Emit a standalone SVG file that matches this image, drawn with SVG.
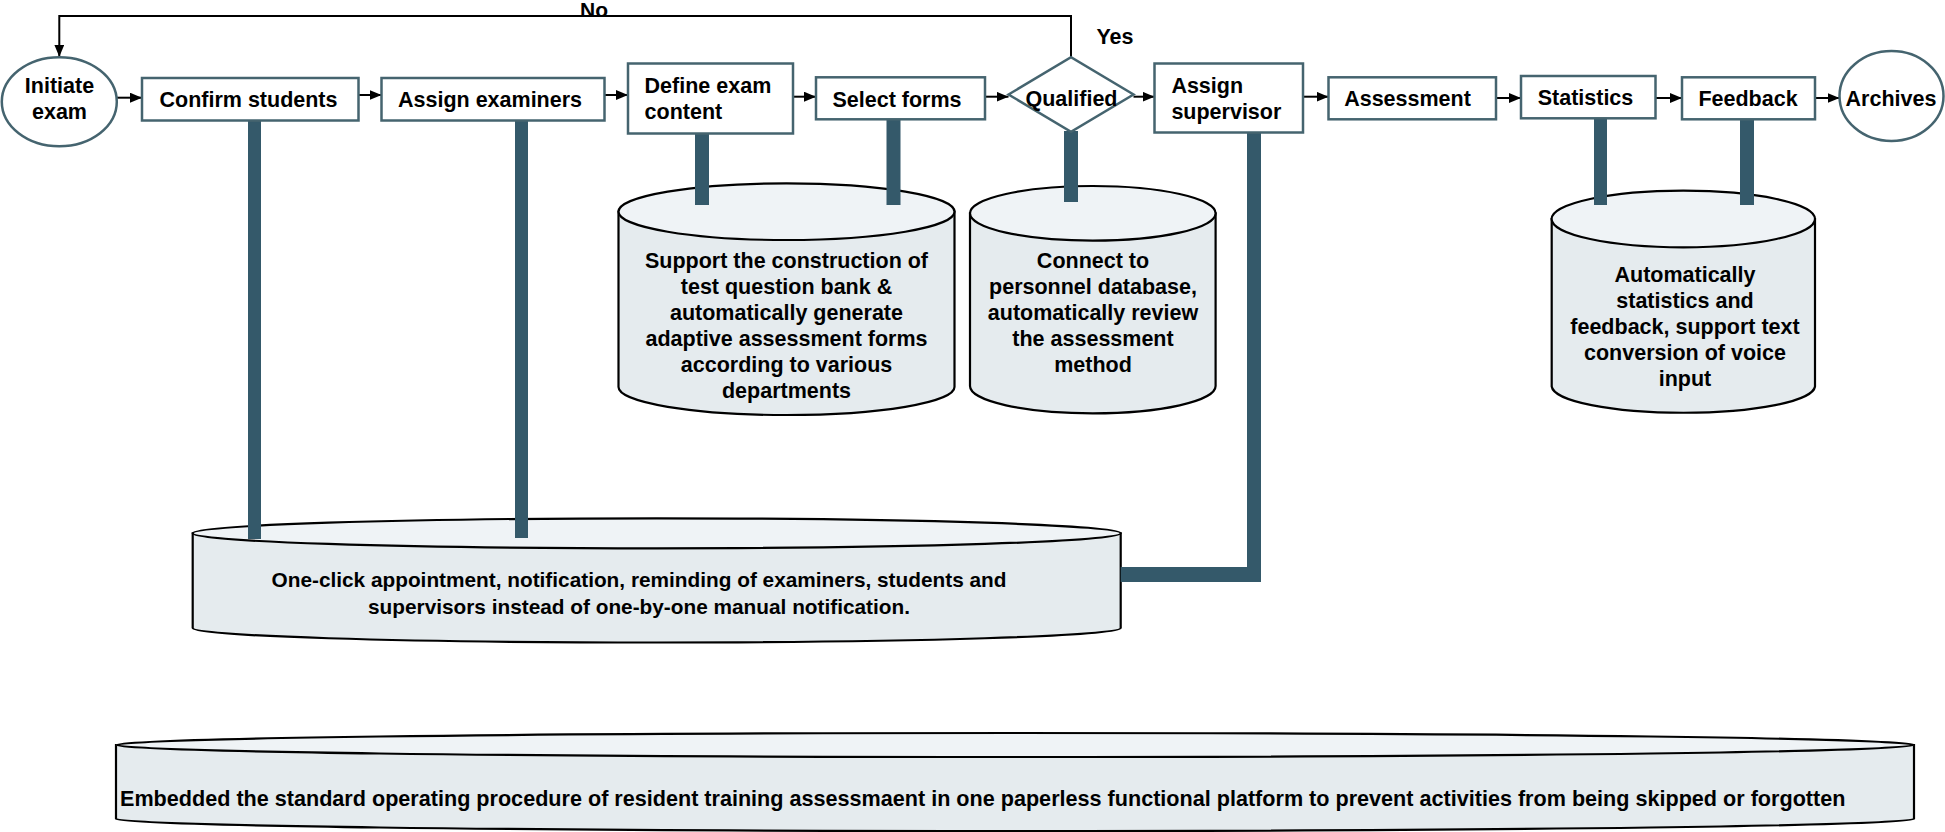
<svg xmlns="http://www.w3.org/2000/svg" width="1945" height="832" viewBox="0 0 1945 832">
<style>
  .box { fill: #ffffff; stroke: #45646f; stroke-width: 2.5; }
  .body { fill: #e5ebee; stroke: #000000; stroke-width: 2.2; }
  .top { fill: #eff3f6; stroke: #000000; stroke-width: 2.2; }
  .bar { fill: #34596a; }
  .flow { fill: none; stroke: #000000; stroke-width: 2; marker-end: url(#ah); }
  text { font-family: "Liberation Sans", Arial, Helvetica, sans-serif; font-weight: bold; font-size: 21.5px; fill: #000000; }
  .c { text-anchor: middle; }
  .s { font-size: 20.8px; }
</style>
<defs>
  <marker id="ah" markerUnits="userSpaceOnUse" markerWidth="12" markerHeight="10" refX="12" refY="5" orient="auto">
    <path d="M0,0 L12,5 L0,10 Z" fill="#000000"/>
  </marker>
</defs>
<rect width="1945" height="832" fill="#ffffff"/>

<!-- cylinders (data stores) -->
<g id="db-questionbank">
  <path class="body" d="M618.5,211.7 V387 A168,28 0 0 0 954.5,387 V211.7 Z"/>
  <ellipse class="top" cx="786.5" cy="211.7" rx="168" ry="28.3"/>
  <text class="c" x="786.5" y="268">Support the construction of<tspan x="786.5" dy="26">test question bank &amp;</tspan><tspan x="786.5" dy="26">automatically generate</tspan><tspan x="786.5" dy="26.3">adaptive assessment forms</tspan><tspan x="786.5" dy="26">according to various</tspan><tspan x="786.5" dy="26">departments</tspan></text>
</g>
<g id="db-personnel">
  <path class="body" d="M970,213.3 V386 A122.8,27.3 0 0 0 1215.6,386 V213.3 Z"/>
  <ellipse class="top" cx="1092.8" cy="213.3" rx="122.8" ry="27.3"/>
  <text class="c" x="1093" y="268">Connect to<tspan x="1093" dy="26">personnel database,</tspan><tspan x="1093" dy="26">automatically review</tspan><tspan x="1093" dy="26">the assessment</tspan><tspan x="1093" dy="26">method</tspan></text>
</g>
<g id="db-statistics">
  <path class="body" d="M1551.7,219 V386.5 A131.7,27 0 0 0 1815,386.5 V219 Z"/>
  <ellipse class="top" cx="1683.3" cy="219" rx="131.7" ry="28.3"/>
  <text class="c" x="1685" y="282">Automatically<tspan x="1685" dy="26">statistics and</tspan><tspan x="1685" dy="26">feedback, support text</tspan><tspan x="1685" dy="26">conversion of voice</tspan><tspan x="1685" dy="26">input</tspan></text>
</g>
<g id="db-notification">
  <path class="body" d="M192.7,533.3 V628 A464,14.5 0 0 0 1120.7,628 V533.3 Z"/>
  <ellipse class="top" cx="656.7" cy="533.3" rx="464" ry="15"/>
  <text class="c s" x="639" y="587">One-click appointment, notification, reminding of examiners, students and<tspan x="639" dy="27">supervisors instead of one-by-one manual notification.</tspan></text>
</g>
<g id="db-platform">
  <path class="body" d="M116,745 V819 A899,12 0 0 0 1914,819 V745 Z"/>
  <ellipse class="top" cx="1015" cy="745" rx="899" ry="12"/>
  <text x="120" y="806" style="font-size:21.6px">Embedded  the standard operating procedure of resident training assessmaent in one paperless functional platform to prevent activities from being skipped or forgotten</text>
</g>

<!-- connectors -->
<g id="connectors">
  <path class="flow" d="M117,97.7 H142"/>
  <path class="flow" d="M358.5,95 H381.5"/>
  <path class="flow" d="M604.5,95 H628"/>
  <path class="flow" d="M793,96.7 H816"/>
  <path class="flow" d="M985,96.7 H1008.5"/>
  <path class="flow" d="M1133.5,96.7 H1154.5"/>
  <path class="flow" d="M1303,96.7 H1328.5"/>
  <path class="flow" d="M1496,98 H1521"/>
  <path class="flow" d="M1655.5,98 H1682"/>
  <path class="flow" d="M1815,98 H1839.5"/>
  <path class="flow" d="M1071,57.3 V16 H59.3 V56.7"/>
  <text class="c" x="594" y="16.5" style="font-size:21px">No</text>
  <text class="c" x="1115" y="44">Yes</text>
  <rect class="bar" x="248" y="120" width="13" height="419"/>
  <rect class="bar" x="515" y="120" width="13" height="418"/>
  <rect class="bar" x="695" y="133" width="14" height="72"/>
  <rect class="bar" x="886.5" y="119" width="14" height="86"/>
  <rect class="bar" x="1064" y="131" width="14" height="71"/>
  <path class="bar" d="M1247,132 H1261 V582 H1120.7 V567 H1247 Z"/>
  <rect class="bar" x="1594" y="118" width="13" height="87"/>
  <rect class="bar" x="1740" y="119" width="14" height="86"/>
</g>

<!-- process nodes -->
<g id="initiate-exam">
  <ellipse class="box" cx="59.3" cy="101.7" rx="57.5" ry="44.5"/>
  <text class="c" x="59.5" y="93.3">Initiate<tspan x="59.5" dy="26">exam</tspan></text>
</g>
<g id="confirm-students">
  <rect class="box" x="142" y="78" width="216.5" height="42.5"/>
  <text class="c" x="248.5" y="107.3">Confirm students</text>
</g>
<g id="assign-examiners">
  <rect class="box" x="381.5" y="78" width="223" height="42.5"/>
  <text class="c" x="490" y="107.3">Assign examiners</text>
</g>
<g id="define-exam-content">
  <rect class="box" x="628" y="63.5" width="165" height="70"/>
  <text x="644.6" y="93.3">Define exam<tspan x="644.6" dy="26">content</tspan></text>
</g>
<g id="select-forms">
  <rect class="box" x="816" y="77.3" width="169" height="42"/>
  <text class="c" x="897" y="107">Select forms</text>
</g>
<g id="qualified">
  <polygon class="box" points="1008.5,94.5 1071,57.3 1133.5,94.5 1071,131.7"/>
  <text class="c" x="1071.5" y="106">Qualified</text>
</g>
<g id="assign-supervisor">
  <rect class="box" x="1154.5" y="63.5" width="148.5" height="69"/>
  <text x="1171.4" y="93.3">Assign<tspan x="1171.4" dy="26">supervisor</tspan></text>
</g>
<g id="assessment">
  <rect class="box" x="1328.5" y="77.3" width="167.5" height="42"/>
  <text class="c" x="1407.5" y="106">Assessment</text>
</g>
<g id="statistics">
  <rect class="box" x="1521" y="76" width="134.5" height="42.3"/>
  <text class="c" x="1585.5" y="105">Statistics</text>
</g>
<g id="feedback">
  <rect class="box" x="1682" y="77.3" width="133" height="42"/>
  <text class="c" x="1748" y="106">Feedback</text>
</g>
<g id="archives">
  <ellipse class="box" cx="1891.5" cy="96" rx="52" ry="45"/>
  <text class="c" x="1891" y="106">Archives</text>
</g>
</svg>
